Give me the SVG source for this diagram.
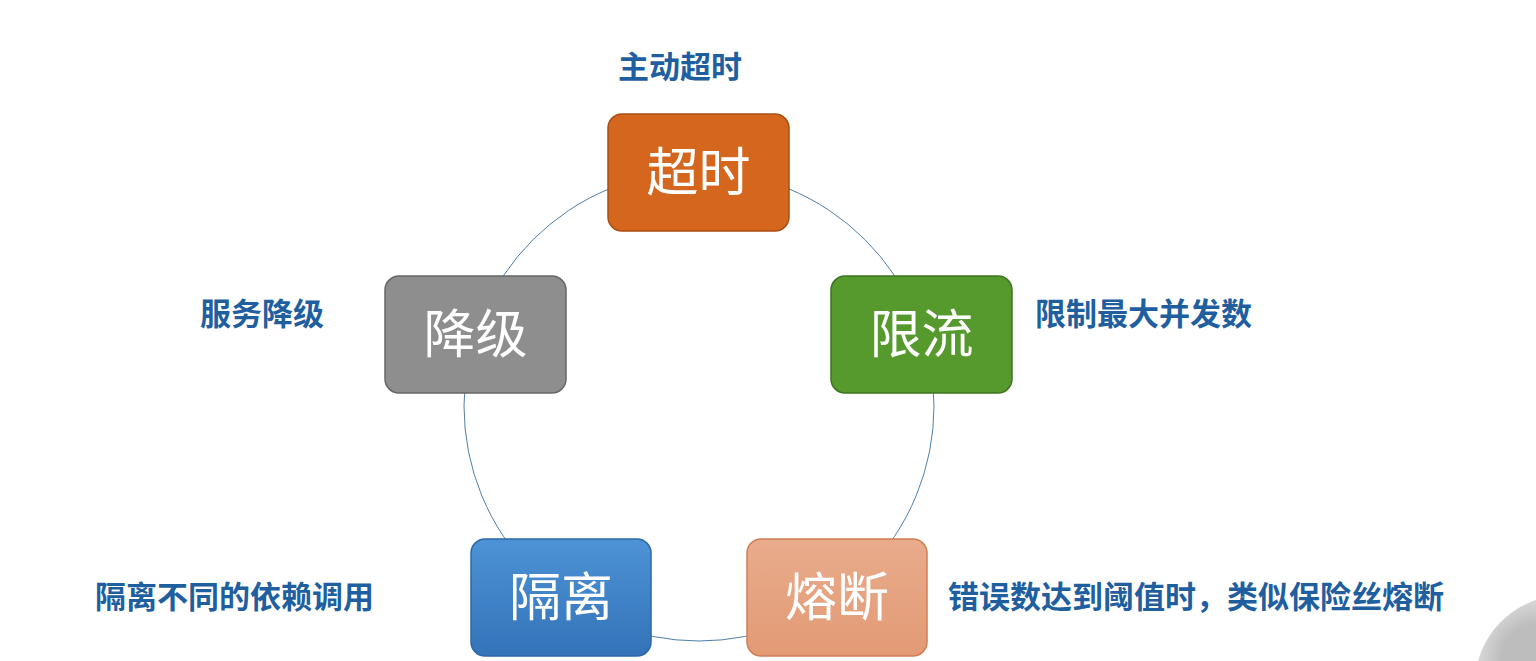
<svg xmlns="http://www.w3.org/2000/svg" width="1536" height="661" viewBox="0 0 1536 661">
<defs>
<style>
.lbl{font-family:"Noto Sans CJK SC",sans-serif;font-weight:bold;font-size:31px;fill:#1F5FA0}
.nt{font-family:"Noto Sans CJK SC",sans-serif;font-size:52px;fill:#fff;text-anchor:middle}
</style>
<linearGradient id="gb" x1="0" y1="0" x2="0" y2="1"><stop offset="0" stop-color="#4D93D6"/><stop offset="1" stop-color="#3473B9"/></linearGradient>
<linearGradient id="gs" x1="0" y1="0" x2="0" y2="1"><stop offset="0" stop-color="#E8AC8C"/><stop offset="1" stop-color="#E39A75"/></linearGradient>
<radialGradient id="gg" cx="1" cy="1" r="1"><stop offset="0.6" stop-color="#BDBDBD"/><stop offset="1" stop-color="#D8D8D8"/></radialGradient>
</defs>
<rect width="1536" height="661" fill="#fff"/>
<g id="connectors"><circle cx="699" cy="406" r="235" fill="none" stroke="#4F7FA8" stroke-width="1"/></g>
<path d="M1536 600 A90 90 0 0 0 1478 661 L1536 661 Z" fill="url(#gg)"/>
<g id="n-timeout"><rect x="608" y="114" width="181" height="117" rx="14" fill="#D5661E" stroke="#A94E14" stroke-width="1.5"/><text class="nt" x="698.5" y="191">超时</text></g>
<g id="n-limit"><rect x="831" y="276" width="181" height="117" rx="14" fill="#56992D" stroke="#3D7420" stroke-width="1.5"/><text class="nt" x="921.5" y="353">限流</text></g>
<g id="n-fuse"><rect x="747" y="539" width="180" height="117" rx="14" fill="url(#gs)" stroke="#D07F55" stroke-width="1.5"/><text class="nt" x="837" y="616">熔断</text></g>
<g id="n-isolate"><rect x="471" y="539" width="180" height="117" rx="14" fill="url(#gb)" stroke="#2E68A8" stroke-width="1.5"/><text class="nt" x="561" y="616">隔离</text></g>
<g id="n-degrade"><rect x="385" y="276" width="181" height="117" rx="14" fill="#8E8E8E" stroke="#666" stroke-width="1.5"/><text class="nt" x="475.5" y="353">降级</text></g>
<text class="lbl" x="618" y="78">主动超时</text>
<text class="lbl" x="1035" y="325">限制最大并发数</text>
<text class="lbl" x="200" y="325">服务降级</text>
<text class="lbl" x="95" y="608">隔离不同的依赖调用</text>
<text class="lbl" x="948" y="608">错误数达到阈值时，类似保险丝熔断</text>
</svg>
